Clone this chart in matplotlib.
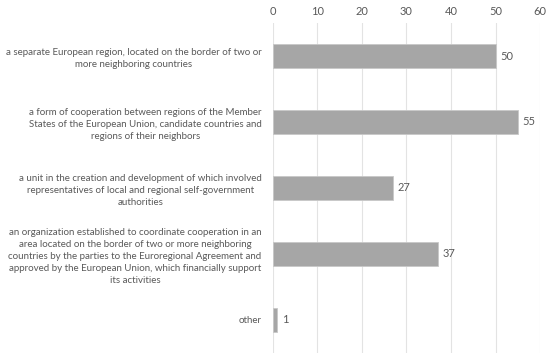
import matplotlib
matplotlib.use("Agg")
from matplotlib import pyplot as plt

labels = [
    "a separate European region, located on the border of two or\nmore neighboring countries",
    "a form of cooperation between regions of the Member\nStates of the European Union, candidate countries and\nregions of their neighbors",
    "a unit in the creation and development of which involved\nrepresentatives of local and regional self-government\nauthorities",
    "an organization established to coordinate cooperation in an\narea located on the border of two or more neighboring\ncountries by the parties to the Euroregional Agreement and\napproved by the European Union, which financially support\nits activities",
    "other",
]
values = [50, 55, 27, 37, 1]
ticks = [0, 10, 20, 30, 40, 50, 60]

plt.rcParams['font.family'] = ['Lato', 'DejaVu Sans']
txt = '#595959'

fig = plt.figure(figsize=(5.5, 3.6), dpi=100)
ax = fig.add_axes([0.496, 0.02, 0.486, 0.916])

ypos = list(range(len(values)))
ax.barh(ypos, values, height=0.36, color='#a6a6a6', edgecolor='#c8c8c8', linewidth=0.6, zorder=3)
for y, v in zip(ypos, values):
    ax.text(v + 1.0, y, str(v), va='center', ha='left', fontsize=8, color=txt)

ax.set_xlim(0, 60)
ax.set_ylim(len(values) - 0.5, -0.5)
ax.set_xticks(ticks)
ax.xaxis.tick_top()
ax.tick_params(axis='x', length=0, pad=4, labelsize=8, labelcolor=txt)
ax.grid(axis='x', color='#e3e3e3', linewidth=0.8, zorder=0)

ax.set_yticks(ypos)
ax.set_yticklabels(labels, fontsize=7.0, color=txt, multialignment='center', linespacing=1.45)
ax.tick_params(axis='y', length=0, pad=8)

for s in ax.spines.values():
    s.set_visible(False)

fig.savefig('out.png', dpi=100)
